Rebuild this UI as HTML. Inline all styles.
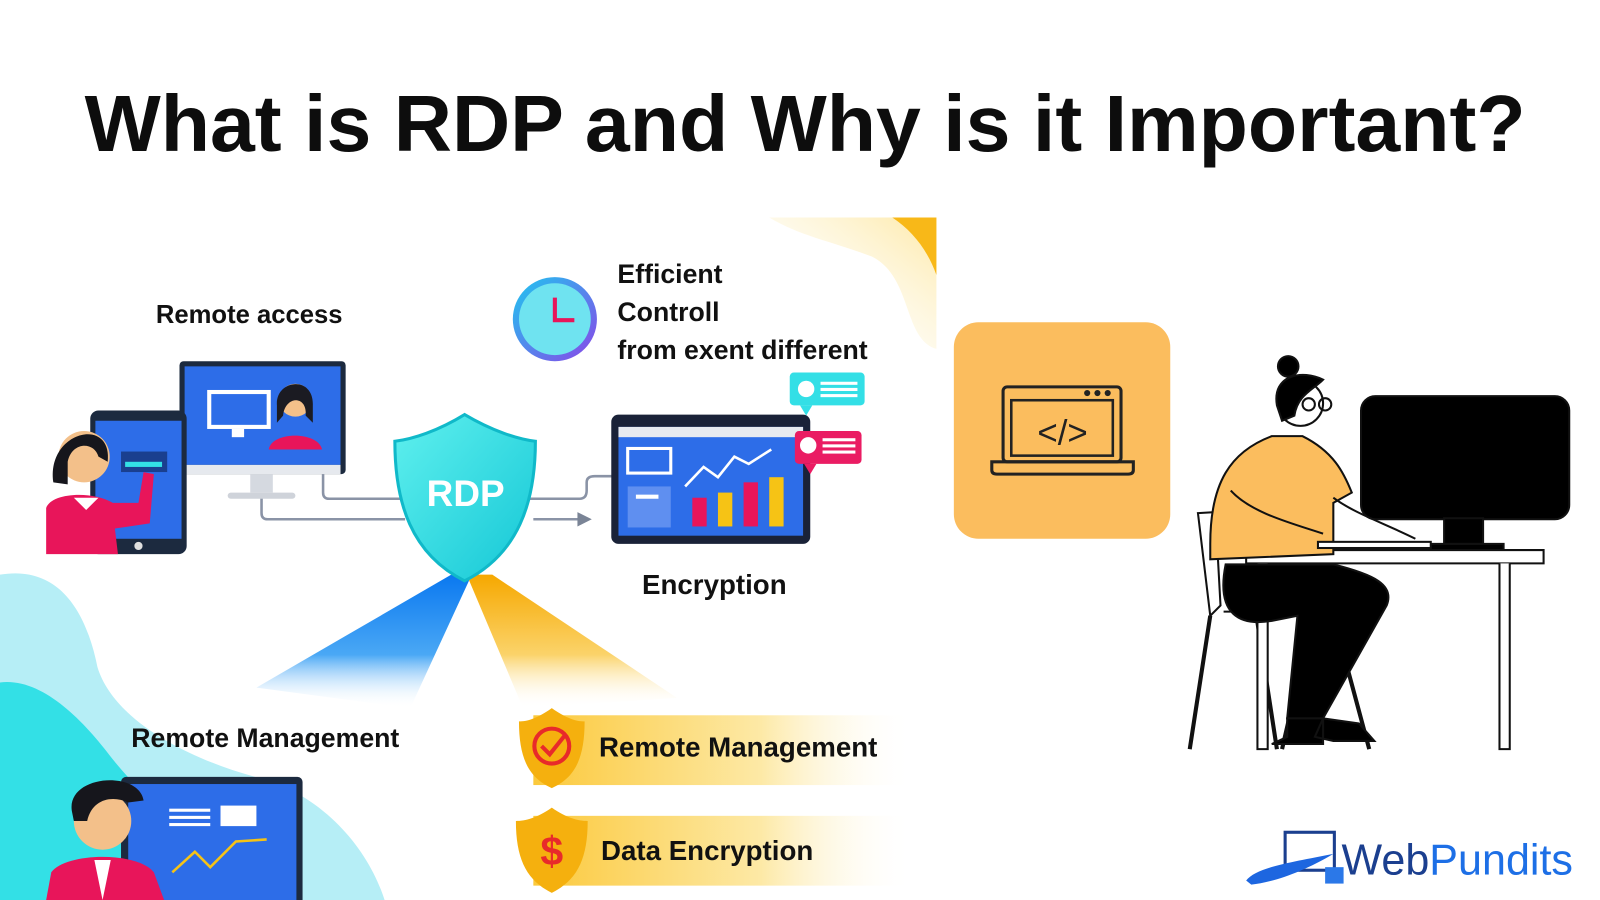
<!DOCTYPE html>
<html><head><meta charset="utf-8"><style>
html,body{margin:0;padding:0;background:#fff;width:1600px;height:900px;overflow:hidden}
svg{display:block}
text{font-family:"Liberation Sans",sans-serif}
</style></head><body>
<svg width="1600" height="900" viewBox="0 0 1560 877" preserveAspectRatio="none" xmlns="http://www.w3.org/2000/svg">
<defs>
<linearGradient id="yc" x1="1" y1="0" x2="0" y2="1"><stop offset="0" stop-color="#fde9a8"/><stop offset="1" stop-color="#fff" stop-opacity="0"/></linearGradient>
<linearGradient id="blueRay" x1="0" y1="0" x2="0" y2="1"><stop offset="0" stop-color="#0a78f0"/><stop offset="0.6" stop-color="#4aa8f5"/><stop offset="1" stop-color="#fff" stop-opacity="0"/></linearGradient>
<linearGradient id="orRay" x1="0" y1="0" x2="0" y2="1"><stop offset="0" stop-color="#f6a800"/><stop offset="0.6" stop-color="#fbd36a"/><stop offset="1" stop-color="#fff" stop-opacity="0"/></linearGradient>
<linearGradient id="ban" x1="0" y1="0" x2="1" y2="0"><stop offset="0" stop-color="#fbc93c"/><stop offset="0.6" stop-color="#fde9a6"/><stop offset="1" stop-color="#fff" stop-opacity="0"/></linearGradient>
<linearGradient id="sh" x1="0" y1="0" x2="1" y2="1"><stop offset="0" stop-color="#5ff0ee"/><stop offset="1" stop-color="#14c7d6"/></linearGradient>
<linearGradient id="clk" x1="0" y1="0" x2="1" y2="1"><stop offset="0" stop-color="#1ec8f0"/><stop offset="1" stop-color="#8a45e8"/></linearGradient>
</defs>

<!-- title -->
<text x="785" y="147" text-anchor="middle" font-size="78" font-weight="bold" fill="#0d0d0d" textLength="1405" lengthAdjust="spacingAndGlyphs">What is RDP and Why is it Important?</text>

<!-- yellow corner -->
<path d="M750 212 L913 212 L913 340 C880 330 890 270 850 250 C810 235 780 230 750 212Z" fill="url(#yc)"/>
<path d="M870 212 L913 212 L913 268 C905 245 890 225 870 212Z" fill="#f8b818"/>

<!-- cyan blob -->
<path d="M0 560 C60 550 85 600 95 650 C110 700 180 740 260 760 C320 780 360 830 375 877 L0 877Z" fill="#b6eef6"/>
<path d="M0 665 C40 660 80 700 110 740 C150 790 200 820 240 877 L0 877Z" fill="#33e0e6"/>

<!-- rays -->
<path d="M440 560 L460 560 L400 690 L250 670Z" fill="url(#blueRay)"/>
<path d="M455 560 L480 560 L660 680 L510 690Z" fill="url(#orRay)"/>

<!-- connectors -->
<g fill="none" stroke="#8a93a6" stroke-width="2.5">
<path d="M315 462 V480 Q315 486 321 486 H395"/>
<path d="M255 485 V500 Q255 506 261 506 H395"/>
<path d="M515 486 H565 Q572 486 572 478 V470 Q572 464 580 464 H598"/>
<path d="M520 506 H565"/>
</g>
<path d="M563 499 L577 506 L563 513Z" fill="#7a8496"/>

<!-- monitor -->
<rect x="175" y="352" width="162" height="110" rx="4" fill="#1c2a3f"/>
<rect x="180" y="357" width="152" height="96" fill="#2d6de8"/>
<rect x="180" y="453" width="152" height="9" fill="#e6e9ee"/>
<rect x="244" y="462" width="22" height="18" fill="#d5d9e0"/>
<rect x="222" y="480" width="66" height="6" rx="3" fill="#cfd3da"/>
<rect x="204" y="382" width="58" height="34" fill="none" stroke="#fff" stroke-width="4"/>
<rect x="226" y="418" width="12" height="8" fill="#fff"/>
<circle cx="288" cy="390" r="16" fill="#f3c08a"/>
<path d="M270 395 C268 370 306 365 305 395 L305 412 L298 405 C300 385 278 385 276 405 L270 412Z" fill="#1b1b22"/>
<path d="M262 438 C265 420 310 420 314 438Z" fill="#e8155a"/>
<!-- tablet -->
<rect x="88" y="400" width="94" height="140" rx="8" fill="#1c2a3f"/>
<rect x="93" y="410" width="84" height="115" fill="#2d6de8"/>
<circle cx="135" cy="532" r="4" fill="#e0e0e0"/>
<rect x="118" y="440" width="45" height="20" fill="#1a3f8f"/>
<rect x="122" y="450" width="36" height="5" fill="#33e0e6"/>
<circle cx="82" cy="445" r="25" fill="#f3c08a"/>
<path d="M52 470 C45 420 110 405 105 450 L96 445 C92 430 70 430 66 450 L66 472Z" fill="#16161c"/>
<path d="M45 540 L45 495 C50 480 90 478 110 490 L135 490 L140 460 L150 462 L146 510 L112 515 L115 540Z" fill="#e8155a"/>
<path d="M72 485 L84 497 L96 485Z" fill="#fff"/>

<!-- shield -->
<path d="M453 404 C480 420 505 428 522 430 C522 490 505 540 453 566 C401 540 385 490 385 430 C402 428 427 420 453 404Z" fill="url(#sh)" stroke="#10b9c9" stroke-width="3"/>
<text x="454" y="493" text-anchor="middle" font-size="36" font-weight="bold" fill="#fff">RDP</text>

<!-- dashboard -->
<rect x="596" y="404" width="194" height="126" rx="7" fill="#1a2238"/>
<rect x="603" y="416" width="180" height="106" fill="#2d6de8"/>
<rect x="603" y="416" width="180" height="10" fill="#e7eaf0"/>
<rect x="612" y="437" width="42" height="24" fill="none" stroke="#fff" stroke-width="3"/>
<rect x="612" y="474" width="42" height="40" fill="#5f8ff0"/>
<rect x="620" y="482" width="22" height="4" fill="#fff"/>
<rect x="675" y="485" width="14" height="28" fill="#e8155a"/>
<rect x="700" y="480" width="14" height="33" fill="#f6c315"/>
<rect x="725" y="470" width="14" height="43" fill="#e8155a"/>
<rect x="750" y="465" width="14" height="48" fill="#f6c315"/>
<polyline points="668,474 686,455 700,465 716,445 730,452 752,438" fill="none" stroke="#fff" stroke-width="2.5"/>
<rect x="770" y="363" width="73" height="32" rx="4" fill="#33dfe6"/>
<path d="M780 395 L786 405 L792 395Z" fill="#33dfe6"/>
<circle cx="786" cy="379" r="8" fill="#fff"/>
<rect x="800" y="372" width="36" height="3" fill="#fff"/><rect x="800" y="378" width="36" height="3" fill="#fff"/><rect x="800" y="384" width="36" height="3" fill="#fff"/>
<rect x="775" y="420" width="65" height="32" rx="4" fill="#ea1c63"/>
<path d="M784 452 L790 462 L796 452Z" fill="#ea1c63"/>
<circle cx="788" cy="434" r="8" fill="#fff"/>
<rect x="802" y="427" width="32" height="3" fill="#fff"/><rect x="802" y="433" width="32" height="3" fill="#fff"/><rect x="802" y="439" width="32" height="3" fill="#fff"/>

<!-- clock -->
<circle cx="541" cy="311" r="41" fill="url(#clk)"/>
<circle cx="541" cy="311" r="35" fill="#6fe3f0"/>
<path d="M541 290 V312 H560" fill="none" stroke="#e8155a" stroke-width="4"/>

<!-- labels -->
<g font-weight="bold" fill="#111">
<text x="152" y="315" font-size="25">Remote access</text>
<text x="602" y="276" font-size="26">Efficient</text>
<text x="602" y="313" font-size="26">Controll</text>
<text x="602" y="350" font-size="26">from exent different</text>
<text x="626" y="579" font-size="27">Encryption</text>
<text x="128" y="728" font-size="26">Remote Management</text>
</g>

<!-- banners -->
<rect x="520" y="697" width="370" height="68" fill="url(#ban)"/>
<rect x="520" y="795" width="370" height="68" fill="url(#ban)"/>
<path d="M538 690 C552 700 562 703 570 703 C570 740 560 758 538 768 C516 758 506 740 506 703 C514 703 524 700 538 690Z" fill="#f5b00e"/>
<circle cx="538" cy="727" r="17" fill="none" stroke="#e82a2a" stroke-width="4"/>
<path d="M528 727 L536 735 L552 715" fill="none" stroke="#e82a2a" stroke-width="4"/>
<path d="M538 787 C552 797 564 800 573 800 C573 838 562 858 538 870 C514 858 503 838 503 800 C512 800 524 797 538 787Z" fill="#f5b00e"/>
<text x="538" y="843" text-anchor="middle" font-size="40" font-weight="bold" fill="#e82a2a">$</text>
<g font-weight="bold" fill="#111">
<text x="584" y="737" font-size="27">Remote Management</text>
<text x="586" y="838" font-size="27">Data Encryption</text>
</g>

<!-- bottom-left monitor & man -->
<rect x="118" y="757" width="177" height="125" rx="5" fill="#1c2a3f"/>
<rect x="125" y="764" width="164" height="113" fill="#2d6de8"/>
<rect x="165" y="788" width="40" height="3" fill="#fff"/><rect x="165" y="795" width="40" height="3" fill="#fff"/><rect x="165" y="802" width="40" height="3" fill="#fff"/>
<rect x="215" y="785" width="35" height="20" fill="#fff"/>
<polyline points="168,850 190,830 205,845 230,820 260,818" fill="none" stroke="#f6c315" stroke-width="2.5"/>
<circle cx="100" cy="800" r="28" fill="#f3c08a"/>
<path d="M70 790 C65 755 135 750 140 780 L125 782 C110 775 90 778 85 800 L72 800Z" fill="#16161c"/>
<path d="M45 877 L50 850 C65 830 135 830 150 850 L160 877Z" fill="#e8155a"/>
<path d="M92 838 L100 877 L108 838Z" fill="#fff"/>

<!-- orange box -->
<rect x="930" y="314" width="211" height="211" rx="24" fill="#fbbd5e"/>
<rect x="978" y="377" width="115" height="73" rx="4" fill="none" stroke="#222" stroke-width="3"/>
<rect x="986" y="390" width="99" height="54" fill="none" stroke="#222" stroke-width="2.5"/>
<path d="M967 450 H1105 V458 Q1105 462 1100 462 H972 Q967 462 967 458Z" fill="none" stroke="#222" stroke-width="3"/>
<circle cx="1060" cy="383" r="3" fill="#222"/><circle cx="1070" cy="383" r="3" fill="#222"/><circle cx="1080" cy="383" r="3" fill="#222"/>
<text x="1036" y="433" text-anchor="middle" font-size="34" fill="#222">&lt;/&gt;</text>

<!-- woman at desk -->
<g stroke="#111" stroke-width="2">
<rect x="1327" y="386" width="203" height="120" rx="14" fill="#000"/>
<rect x="1408" y="505" width="38" height="25" fill="#000"/>
<rect x="1390" y="530" width="76" height="6" fill="#000"/>
<path d="M1168 500 L1185 499 L1190 590 L1180 600 Z" fill="#fff"/>
<path d="M1193 596 H1310" fill="none"/>
<path d="M1180 600 L1160 730 M1225 600 L1245 730 M1300 600 L1335 730 M1280 600 L1250 730" fill="none" stroke-width="4"/>
<path d="M1215 536 H1505 V549 H1215Z" fill="#fff"/>
<path d="M1226 549 V730 H1236 V549 M1462 549 V730 H1472 V549" fill="#fff"/>
<path d="M1195 550 C1185 600 1210 610 1240 605 L1265 600 L1255 700 L1290 700 L1352 590 C1360 570 1340 560 1300 550Z" fill="#000"/>
<path d="M1255 700 V718 L1240 725 H1290 V700Z M1290 700 L1282 718 L1300 722 H1340 L1325 705Z" fill="#000"/>
<path d="M1180 530 C1180 470 1200 440 1240 425 L1270 425 C1300 440 1310 460 1318 480 L1300 490 L1300 540 L1180 545Z" fill="#fbbd5e"/>
<path d="M1200 478 C1220 500 1260 510 1290 520 M1300 485 C1320 500 1350 510 1380 525" fill="none"/>
<circle cx="1268" cy="393" r="22" fill="#fff"/>
<path d="M1245 395 C1240 365 1270 360 1290 370 C1280 380 1265 385 1262 405 L1250 410Z" fill="#000"/>
<circle cx="1256" cy="357" r="10" fill="#000"/>
<circle cx="1276" cy="394" r="6" fill="none"/><circle cx="1292" cy="394" r="6" fill="none"/>
<rect x="1285" y="528" width="110" height="6" fill="#fff"/>
</g>

<!-- logo -->
<rect x="1253" y="811" width="48" height="37" fill="none" stroke="#1b3f8f" stroke-width="3"/>
<path d="M1215 858 C1225 845 1260 840 1300 832 C1270 850 1240 860 1220 862Z" fill="#1d66e0"/>
<rect x="1292" y="845" width="18" height="16" fill="#2b78e8"/>
<text x="1308" y="852" font-size="42" fill="#1b3f8f">Web<tspan fill="#1d6fe6">Pundits</tspan></text>
</svg>
</body></html>
